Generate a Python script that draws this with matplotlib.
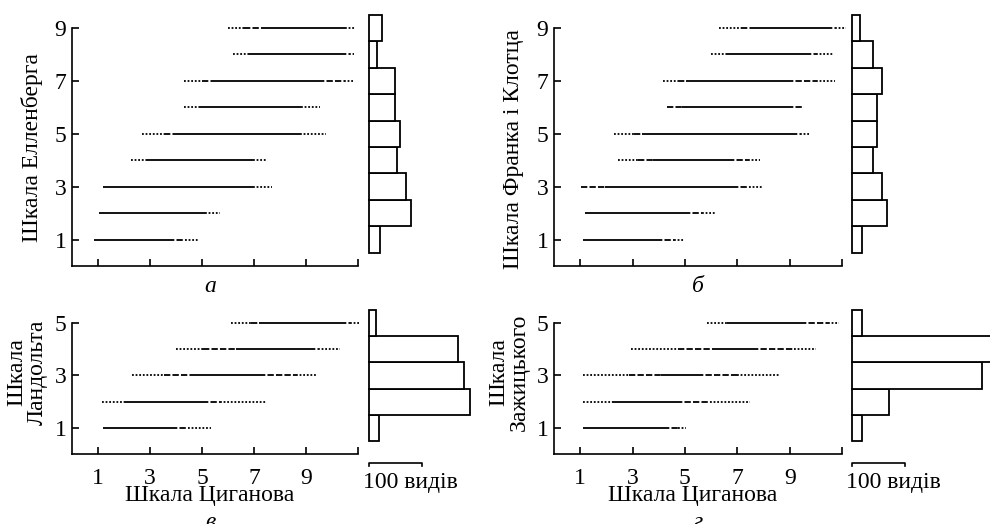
import matplotlib.pyplot as plt

plt.rcParams['font.family'] = ['Liberation Serif', 'DejaVu Serif']
plt.rcParams['font.size'] = 17

W, H = 990, 524

# Діапазони для кожного рівня шкали:
# [початок крапок, початок штрихів, початок суцільної, кінець суцільної, кінець штрихів, кінець крапок]
levels_a = [1, 2, 3, 4, 5, 6, 7, 8, 9]
ranges_a = [
    [0.85, 0.85, 0.85, 3.7, 4.35, 4.85],
    [1.05, 1.05, 1.05, 5.1, 5.1, 5.7],
    [1.2, 1.2, 1.2, 6.95, 6.95, 7.7],
    [2.25, 2.9, 2.9, 6.95, 6.95, 7.5],
    [2.7, 3.55, 3.9, 8.75, 8.75, 9.75],
    [4.3, 4.9, 4.9, 8.8, 8.8, 9.55],
    [4.3, 5.0, 5.4, 9.45, 10.45, 10.85],
    [6.2, 6.8, 6.8, 10.3, 10.65, 10.85],
    [6.0, 6.6, 7.3, 10.5, 10.5, 10.9],
]
counts_a = [21, 79, 69, 52, 58, 49, 49, 15, 25]

levels_b = [1, 2, 3, 4, 5, 6, 7, 8, 9]
ranges_b = [
    [1.1, 1.1, 1.1, 3.9, 4.6, 4.95],
    [1.2, 1.2, 1.2, 4.95, 5.65, 6.15],
    [1.05, 1.05, 1.95, 6.8, 7.45, 7.95],
    [2.45, 3.2, 3.8, 6.65, 7.4, 7.85],
    [2.3, 3.05, 3.35, 9.05, 9.4, 9.75],
    [4.3, 4.3, 4.9, 8.9, 9.55, 9.55],
    [4.15, 4.75, 5.05, 8.9, 10.0, 10.75],
    [6.0, 6.6, 6.85, 9.6, 10.0, 10.7],
    [6.3, 7.15, 7.5, 10.4, 10.75, 11.15],
]
counts_b = [18, 66, 56, 40, 47, 47, 57, 40, 16]

levels_c = [1, 2, 3, 4, 5]
ranges_c = [
    [1.2, 1.2, 1.2, 3.8, 4.45, 5.35],
    [1.15, 2.0, 2.15, 5.0, 5.7, 7.45],
    [2.3, 3.55, 4.55, 7.2, 8.6, 9.4],
    [4.0, 5.05, 6.3, 9.1, 9.45, 10.3],
    [6.1, 6.9, 7.2, 10.3, 10.7, 11.05],
]
counts_c = [19, 191, 179, 168, 13]

levels_d = [1, 2, 3, 4, 5]
ranges_d = [
    [1.1, 1.1, 1.1, 4.15, 4.75, 5.05],
    [1.1, 2.25, 2.3, 4.65, 5.95, 7.5],
    [1.1, 2.85, 4.1, 5.45, 7.0, 8.65],
    [2.95, 4.75, 6.1, 7.55, 9.15, 10.0],
    [5.85, 6.6, 6.85, 9.4, 10.45, 10.9],
]
counts_d = [19, 70, 245, 280, 19]

x_ticks = [1, 3, 5, 7, 9, 11]
x_ticklabels = ['1', '3', '5', '7', '9', '']

DOT = (0, (1, 1))
DASH = (0, (3.5, 1.2))


def box(x0, y0, x1, y1):
    # піксельний прямокутник -> частки фігури
    return [x0 / W, 1 - y1 / H, (x1 - x0) / W, (y1 - y0) / H]


def draw_ranges(ax, levels, ranges):
    for y, p in zip(levels, ranges):
        parts = [(p[0], p[1], DOT), (p[1], p[2], DASH), (p[2], p[3], '-'),
                 (p[3], p[4], DASH), (p[4], p[5], DOT)]
        for x0, x1, ls in parts:
            if x1 - x0 > 0.01:
                ax.plot([x0, x1], [y, y], color='black', lw=1.3, ls=ls,
                        solid_capstyle='butt', dash_capstyle='butt', clip_on=False)


def main_axes(pos, levels, ranges, ymax, yticks, bottom_labels):
    ax = fig.add_axes(pos)
    draw_ranges(ax, levels, ranges)
    ax.set_xlim(0, 11)
    ax.set_ylim(0, ymax)
    for s in ['top', 'right']:
        ax.spines[s].set_visible(False)
    for s in ['left', 'bottom']:
        ax.spines[s].set_linewidth(1.2)
    ax.set_xticks(x_ticks)
    ax.set_yticks(yticks)
    if bottom_labels:
        ax.set_xticklabels(x_ticklabels)
    else:
        ax.set_xticklabels([])
    ax.tick_params(direction='in', length=5, width=1.2, pad=4)
    ax.tick_params(axis='x', pad=10)
    return ax


def hist_axes(pos, levels, counts, ymax, scale_bar):
    ax = fig.add_axes(pos)
    ax.barh(levels, counts, height=1, left=0, color='white', edgecolor='black',
            lw=1.3, clip_on=False)
    ax.set_xlim(0, 100 / 53 * 100)
    ax.set_ylim(0, ymax)
    ax.axis('off')
    if scale_bar:
        ax.plot([0, 0, 100, 100], [-0.46, -0.34, -0.34, -0.46], color='black',
                lw=1.2, clip_on=False)
        ax.text(-11, -1.1, '100 видів', ha='left', va='center')
    return ax


fig = plt.figure(figsize=(W / 100, H / 100), dpi=100)

main_axes(box(72, 28, 358, 266), levels_a, ranges_a, 9, [1, 3, 5, 7, 9], False)
hist_axes(box(369, 28, 469, 266), levels_a, counts_a, 9, False)

main_axes(box(554, 28, 842, 266), levels_b, ranges_b, 9, [1, 3, 5, 7, 9], False)
hist_axes(box(852, 28, 952, 266), levels_b, counts_b, 9, False)

main_axes(box(72, 323, 358, 454), levels_c, ranges_c, 5, [1, 3, 5], True)
hist_axes(box(369, 323, 469, 454), levels_c, counts_c, 5, True)

main_axes(box(554, 323, 842, 454), levels_d, ranges_d, 5, [1, 3, 5], True)
hist_axes(box(852, 323, 952, 454), levels_d, counts_d, 5, True)

# підписи осей
fig.text(32 / W, 1 - 148 / H, 'Шкала Елленберга', rotation=90, ha='center', va='center')
fig.text(513 / W, 1 - 149 / H, 'Шкала Франка і Клотца', rotation=90, ha='center', va='center')
fig.text(27 / W, 1 - 372 / H, 'Шкала\nЛандольта', rotation=90, ha='center', va='center',
         linespacing=0.95)
fig.text(509 / W, 1 - 372 / H, 'Шкала\nЗажицького', rotation=90, ha='center', va='center',
         linespacing=0.95)
fig.text(210 / W, 1 - 496 / H, 'Шкала Циганова', ha='center', va='center')
fig.text(693 / W, 1 - 496 / H, 'Шкала Циганова', ha='center', va='center')

# позначки панелей
fig.text(210 / W, 1 - 287 / H, 'а', style='italic', ha='center', va='center')
fig.text(698 / W, 1 - 287 / H, 'б', style='italic', ha='center', va='center')
fig.text(210 / W, 1 - 512 / H, 'в', style='italic', ha='center', va='top')
fig.text(698 / W, 1 - 512 / H, 'г', style='italic', ha='center', va='top')

fig.savefig('out.png', dpi=100)
